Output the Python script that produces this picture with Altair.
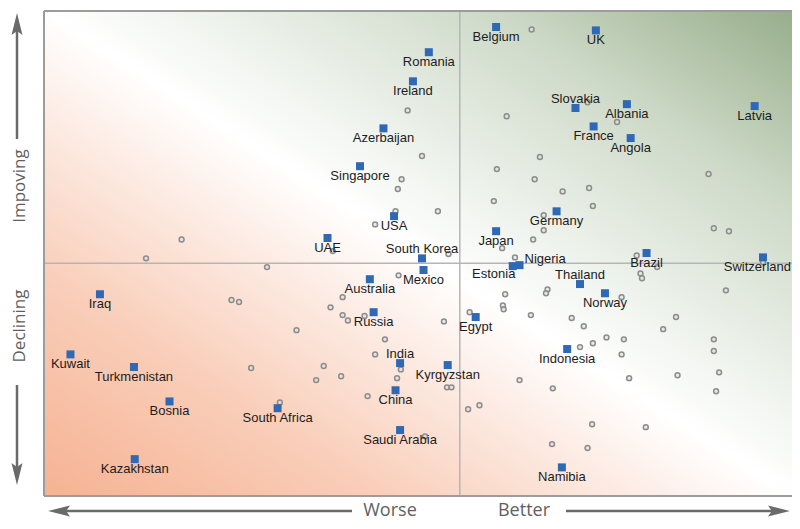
import altair as alt
import pandas as pd

# ---- labelled countries (x: better/worse score, y: improving/declining score)
countries = ["Romania", "Ireland", "Azerbaijan", "Singapore", "USA", "UAE", "South Korea",
             "Mexico", "Australia", "Japan", "Estonia", "Nigeria", "Egypt", "Russia", "India",
             "Kyrgyzstan", "China", "Saudi Arabia", "South Africa", "Iraq", "Kuwait",
             "Turkmenistan", "Bosnia", "Kazakhstan", "Belgium", "UK", "Slovakia", "Albania",
             "France", "Angola", "Latvia", "Germany", "Brazil", "Switzerland", "Thailand",
             "Norway", "Indonesia", "Namibia"]
country_x = [-4.1, -6.2, -10.1, -13.2, -8.7, -17.5, -5.0,
             -4.8, -11.9, 4.8, 7.0, 7.9, 2.1, -11.4, -7.9,
             -1.6, -8.5, -7.9, -24.1, -47.6, -51.5,
             -43.1, -38.4, -43.0, 4.8, 18.0, 15.3, 22.1,
             17.7, 22.6, 39.0, 12.8, 24.7, 40.1, 15.9,
             19.2, 14.2, 13.5]
country_y = [43.5, 37.5, 27.8, 20.0, 9.7, 5.2, 1.0,
             -1.4, -3.3, 6.6, -0.6, -0.4, -11.1, -10.1, -20.6,
             -21.0, -26.2, -34.4, -29.9, -6.4, -18.8,
             -21.4, -28.5, -40.4, 48.7, 48.0, 32.0, 32.8,
             28.2, 25.8, 32.4, 10.7, 2.1, 1.2, -4.3,
             -6.2, -17.7, -42.1]

labels_above = ["South Korea", "Slovakia", "India", "Thailand"]
labels_right = ["Nigeria"]
labels_left = ["Estonia"]
labels_edge = ["Switzerland"]

# ---- other (unlabelled) countries
other_x = [-6.9, -5.0, -7.7, -8.2, -8.5, -2.9, -11.2, -36.8, -41.5, -25.5, -16.8, -1.5,
           9.5, 6.2, 16.9, 20.8, 10.6, 4.9, 9.9, 13.6, 17.1, 4.5, 17.6, 32.9, 11.1, 11.1,
           9.7, 5.6, 7.3, 33.6, 35.6, 23.4, 26.1, 23.9, 24.1, 40.1, -8.1, -15.5, -17.1,
           -15.5, -14.8, -12.6, -2.1, 1.3, 6.0, 5.7, 5.8, 9.4, 11.6, 11.4, -30.2, -29.2,
           -21.6, -9.9, -11.2, -7.8, -8.3, -27.6, -18.0, -15.7, -19.0, -1.7, -1.1, -12.2,
           -23.8, -4.6, 35.2, 21.4, 14.8, 16.4, 28.6, 26.9, 19.4, 21.7, 17.6, 15.9, 33.6,
           33.6, 21.4, 34.3, 28.8, 22.4, 7.9, 12.3, 33.9, 1.1, 2.6, 17.5, 24.6, 12.2, 16.9]
other_y = [31.5, 22.1, 17.3, 15.3, 10.7, 10.7, 8.0, 4.9, 1.0, -0.8, 2.5, 1.9,
           48.2, 30.3, 33.2, 29.1, 21.9, 19.4, 17.3, 14.8, 15.5, 12.8, 11.8, 18.4, 9.9, 6.8,
           4.9, 3.1, 1.2, 7.2, 6.6, 1.6, -0.8, -2.1, -3.1, 0.2, -2.5, -7.0, -9.1,
           -10.7, -11.8, -10.9, -12.0, -10.1, -6.4, -8.7, -9.5, -10.7, -5.4, -6.2, -7.6, -8.0,
           -13.8, -15.7, -18.8, -21.9, -23.7, -21.6, -21.2, -23.3, -24.1, -25.6, -25.6, -27.4,
           -28.7, -35.7, -5.6, -7.0, -11.3, -13.0, -11.1, -13.6, -15.3, -15.7, -16.5, -17.3, -15.7,
           -18.1, -18.8, -22.5, -23.1, -23.7, -24.1, -25.8, -26.4, -30.1, -29.3, -33.2, -33.8, -37.3, -38.1]

x_domain = [-55, 43.94]
y_domain = [-48, 52]
W, H = 748, 485

df = pd.DataFrame({"country": countries, "x": country_x, "y": country_y})
df_other = pd.DataFrame({"x": other_x, "y": other_y})

xs = alt.Scale(domain=x_domain, nice=False, zero=False)
ys = alt.Scale(domain=y_domain, nice=False, zero=False)
X = alt.X("x:Q", scale=xs, axis=None)
Y = alt.Y("y:Q", scale=ys, axis=None)

one = pd.DataFrame({"a": [0]})

background = alt.Chart(one).mark_rect(
    fill={
        "gradient": "linear", "x1": 0, "y1": 1, "x2": 1, "y2": 0,
        "stops": [
            {"offset": 0.0, "color": "#f6b293"},
            {"offset": 0.22, "color": "#f9cdb8"},
            {"offset": 0.42, "color": "#fdf0ea"},
            {"offset": 0.5, "color": "#ffffff"},
            {"offset": 0.6, "color": "#eff3ed"},
            {"offset": 0.8, "color": "#cdd9c7"},
            {"offset": 1.0, "color": "#97ae8b"},
        ],
    }
).encode(x=alt.value(0), x2=alt.value(W), y=alt.value(0), y2=alt.value(H))

zero = pd.DataFrame({"x": [0], "y": [0]})
vline = alt.Chart(zero).mark_rule(color="#b5b5b5", strokeWidth=1.5).encode(x=X)
hline = alt.Chart(zero).mark_rule(color="#b5b5b5", strokeWidth=1.5).encode(y=Y)

border_col = "#9c9c9c"
b_top = alt.Chart(one).mark_rule(color=border_col, strokeWidth=2).encode(
    x=alt.value(0), x2=alt.value(W), y=alt.value(0))
b_bottom = alt.Chart(one).mark_rule(color=border_col, strokeWidth=2).encode(
    x=alt.value(0), x2=alt.value(W), y=alt.value(H))
b_left = alt.Chart(one).mark_rule(color=border_col, strokeWidth=2).encode(
    x=alt.value(0), y=alt.value(0), y2=alt.value(H))

others = alt.Chart(df_other).mark_point(
    shape="circle", size=24, filled=False, stroke="#8d8d8d", strokeWidth=1.5,
    fill="#e0e0e0", fillOpacity=0.6, opacity=1
).encode(x=X, y=Y)

squares = alt.Chart(df).mark_square(size=64, color="#2f69b6", opacity=1).encode(x=X, y=Y)

label_font = "Liberation Sans"
lab = dict(font=label_font, fontSize=13, color="#1c1c1c", baseline="middle")
special = labels_above + labels_right + labels_left + labels_edge


def labels(names, exclude=False, **kw):
    pred = alt.FieldOneOfPredicate(field="country", oneOf=names)
    return alt.Chart(df).transform_filter(~pred if exclude else pred).mark_text(
        **lab, **kw).encode(x=X, y=Y, text="country:N")


txt_below = labels(special, exclude=True, dy=10, align="center")
txt_above = labels(labels_above, dy=-9, align="center")
txt_right = labels(labels_right, dx=5, dy=-6, align="left")
txt_left = labels(labels_left, dx=-19, dy=8, align="center")
txt_edge = labels(labels_edge, dx=28, dy=10, align="right")

# ---- axis annotations (outside plot area)
ann_font = "Open Sans"
ann_col = "#5f5f5f"
arrow_col = "#6a6a6a"
head = "M0,-1L0.5,1L0,0.65L-0.5,1Z"
ax_x = -27      # column of the vertical arrows
tx_x = -24      # column of the vertical words
by = 500        # row of the horizontal annotations


def rule(**enc):
    return alt.Chart(one).mark_rule(color=arrow_col, strokeWidth=2.5).encode(
        **{k: alt.value(v) for k, v in enc.items()})


def arrowhead(x, y, angle):
    return alt.Chart(one).mark_point(shape=head, size=480, filled=True, color=arrow_col,
                                     opacity=1, angle=angle).encode(
        x=alt.value(x), y=alt.value(y))


def ann_text(t, x, y, angle=0, size=18):
    return alt.Chart(one).mark_text(text=t, font=ann_font, fontSize=size, color=ann_col,
                                    angle=angle, align="center", baseline="middle").encode(
        x=alt.value(x), y=alt.value(y))


up_line = rule(x=ax_x, y=20, y2=128)
up_head = arrowhead(ax_x, 13, 0)
down_line = rule(x=ax_x, y=374, y2=462)
down_head = arrowhead(ax_x, 463, 180)
left_line = rule(y=by, x=22, x2=308)
left_head = arrowhead(15, by, 270)
right_line = rule(y=by, x=522, x2=728)
right_head = arrowhead(735, by, 90)

t_imp = ann_text("Impoving", tx_x, 175, angle=270, size=17)
t_dec = ann_text("Declining", tx_x, 315, angle=270, size=17)
t_worse = ann_text("Worse", 346, by, size=18)
t_better = ann_text("Better", 480, by, size=18)

chart = alt.layer(
    background, vline, hline, others, squares,
    txt_below, txt_above, txt_right, txt_left, txt_edge,
    b_top, b_bottom, b_left,
    up_line, up_head, down_line, down_head, left_line, left_head, right_line, right_head,
    t_imp, t_dec, t_worse, t_better,
).properties(
    width=W, height=H,
    autosize=alt.AutoSizeParams(type="none"),
    padding={"left": 36, "top": 3, "right": 0, "bottom": 25},
).configure_view(stroke=None)

chart.save("out.html", embed_options={"renderer": "svg", "actions": False})
